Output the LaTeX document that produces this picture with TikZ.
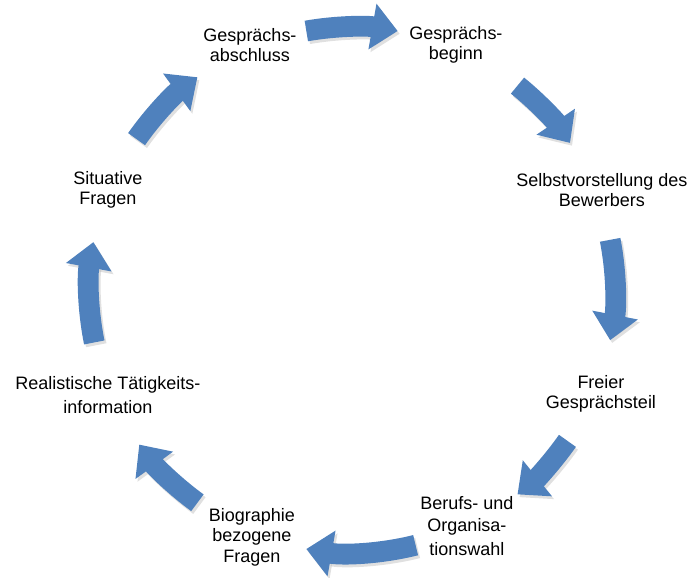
\documentclass[tikz,border=0pt]{standalone}
\usepackage{fontspec}
\setmainfont{Liberation Sans}
\usepackage{xcolor}
\usepackage{tikz}
\usetikzlibrary{arrows.meta, positioning, calc}

\definecolor{stepblue}{RGB}{79,129,189}

\begin{document}
\begin{tikzpicture}[
  phase/.style={align=center, font=\fontsize{12.8}{14.6}\selectfont, inner sep=1pt},
  cyclearrow/.style={line width=0.52cm, stepblue, -{Triangle[width=1.12cm, length=0.64cm]}},
  cycleshadow/.style={line width=0.52cm, black!30, opacity=0.4, -{Triangle[width=1.12cm, length=0.64cm]}, shift={(0.05,-0.07)}}
]
\useasboundingbox (-8.8,-7.2) rectangle (8.475,7.25);

% Phases of the interview
\node[phase] (abschluss) at (-2.55,6.125) {Gespr\"achs-\\abschluss};
\node[phase] (beginn) at (2.6,6.125) {Gespr\"achs-\\beginn};
\node[phase] (selbst) at (6.25,2.5) {Selbstvorstellung des\\Bewerbers};
\node[phase] (freier) at (6.225,-2.6) {Freier\\Gespr\"achsteil};
\node[phase] (berufs) at (2.875,-5.9) {Berufs- und\\[1pt]Organisa-\\[3pt]tionswahl};
\node[phase] (bio) at (-2.5,-6.175) {Biographie\\bezogene\\Fragen};
\node[phase] (real) at (-6.1,-2.625) {Realistische T\"atigkeits-\\[3pt]information};
\node[phase] (situ) at (-6.1,2.5) {Situative\\Fragen};

% Arrows (shadow first)
\draw[cycleshadow] (100:6.575) arc[start angle=100, end angle=80, radius=6.575];
\draw[cycleshadow] (51:6.575) arc[start angle=51, end angle=34, radius=6.575];
\draw[cycleshadow] (11:6.575) arc[start angle=11, end angle=-11, radius=6.575];
\draw[cycleshadow] (-35:6.575) arc[start angle=-35, end angle=-51, radius=6.575];
\draw[cycleshadow] (-76:6.575) arc[start angle=-76, end angle=-100, radius=6.575];
\draw[cycleshadow] (234:6.575) arc[start angle=234, end angle=216, radius=6.575];
\draw[cycleshadow] (191.5:6.575) arc[start angle=191.5, end angle=169.5, radius=6.575];
\draw[cycleshadow] (145:6.575) arc[start angle=145, end angle=126, radius=6.575];

\draw[cyclearrow] (100:6.575) arc[start angle=100, end angle=80, radius=6.575];
\draw[cyclearrow] (51:6.575) arc[start angle=51, end angle=34, radius=6.575];
\draw[cyclearrow] (11:6.575) arc[start angle=11, end angle=-11, radius=6.575];
\draw[cyclearrow] (-35:6.575) arc[start angle=-35, end angle=-51, radius=6.575];
\draw[cyclearrow] (-76:6.575) arc[start angle=-76, end angle=-100, radius=6.575];
\draw[cyclearrow] (234:6.575) arc[start angle=234, end angle=216, radius=6.575];
\draw[cyclearrow] (191.5:6.575) arc[start angle=191.5, end angle=169.5, radius=6.575];
\draw[cyclearrow] (145:6.575) arc[start angle=145, end angle=126, radius=6.575];

\end{tikzpicture}
\end{document}
